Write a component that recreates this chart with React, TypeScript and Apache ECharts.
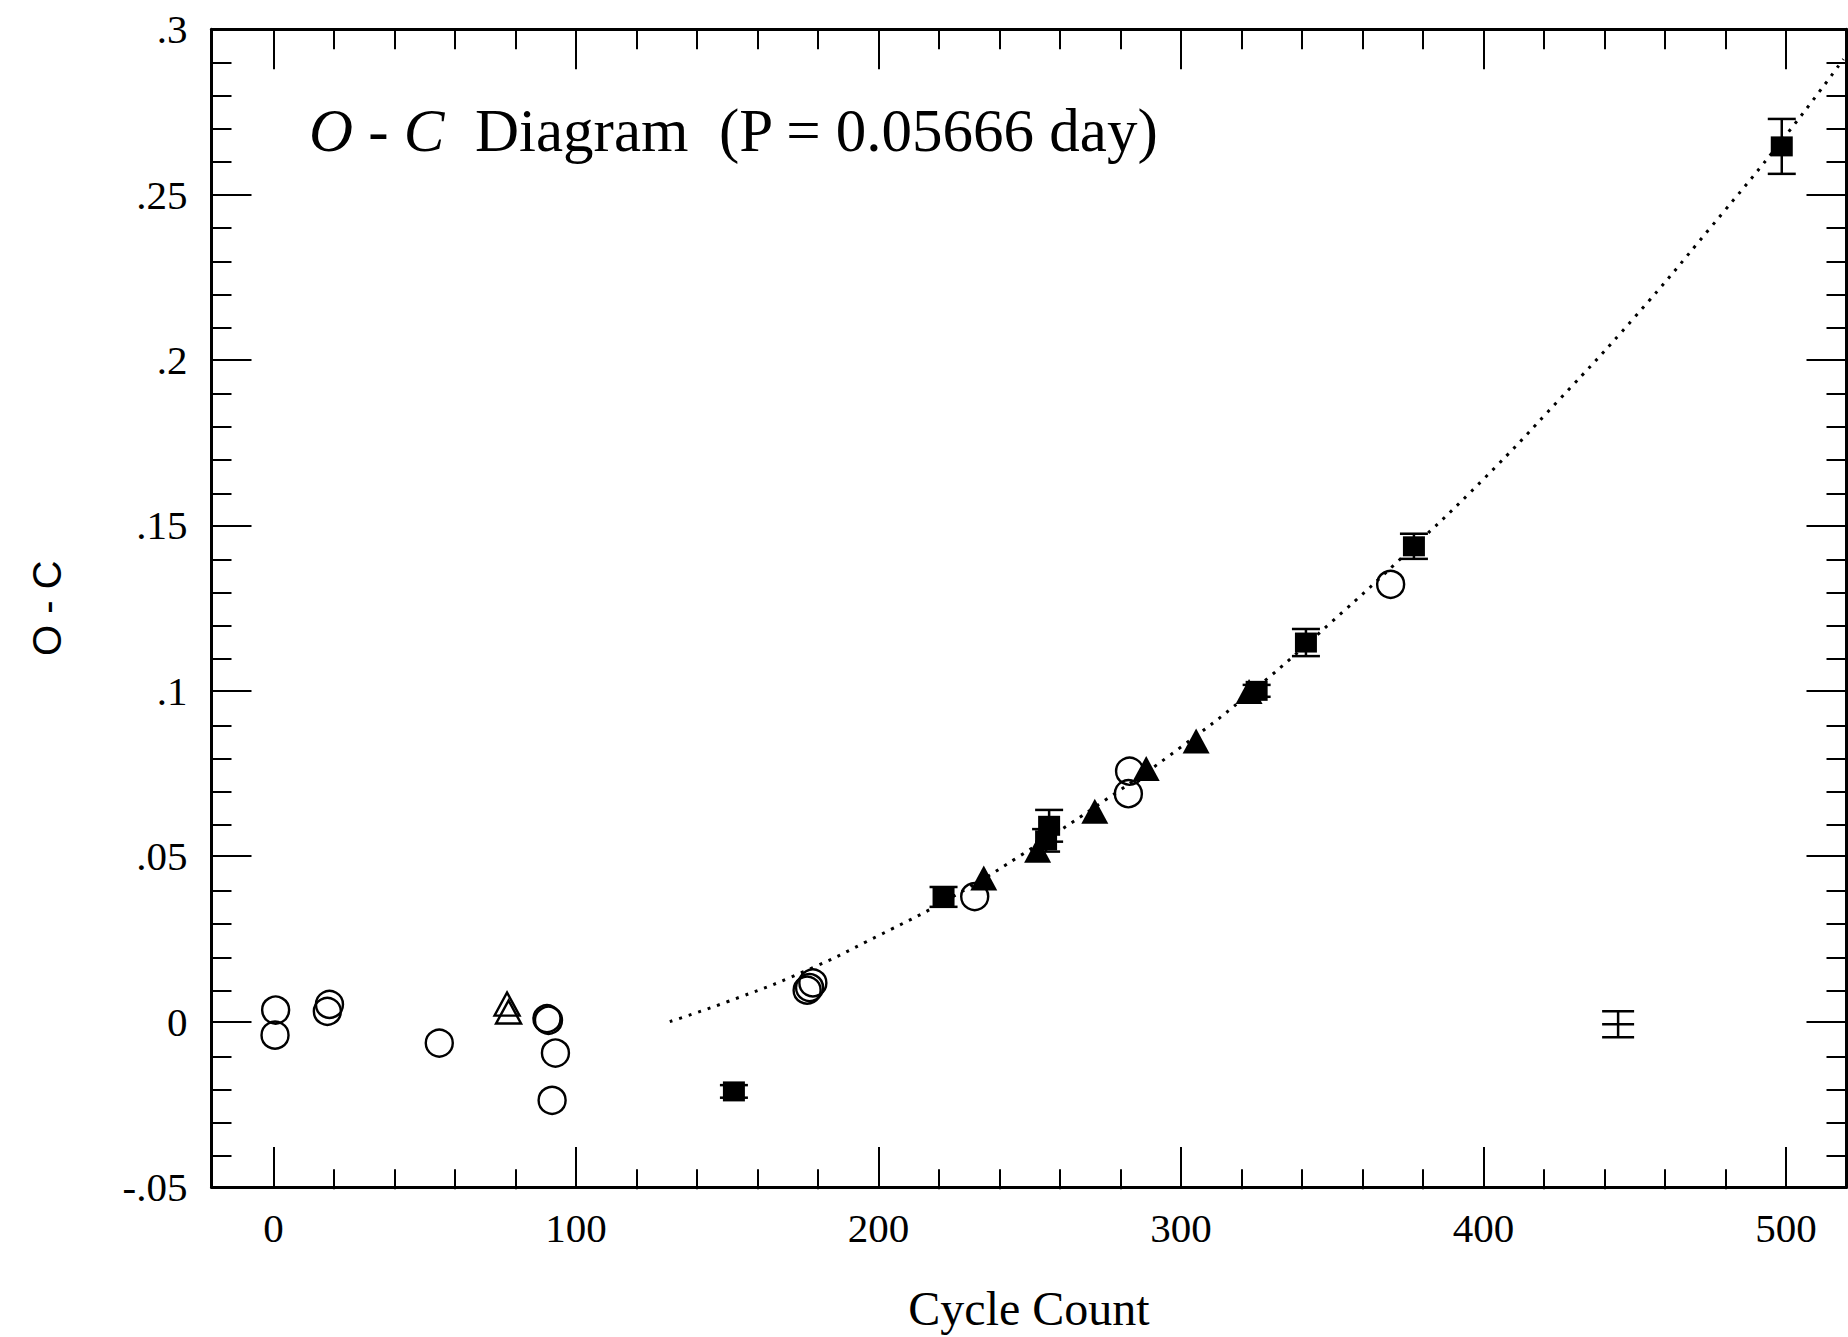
import React, { useEffect, useRef } from "react";
import * as echarts from "echarts";

// ---- data ----
const openCircles: number[][] = [
  [0.7, 0.0035], [0.5, -0.0041], [18.5, 0.0052], [17.8, 0.0031], [54.8, -0.0065],
  [90.4, 0.0009], [90.9, 0.0004], [93.2, -0.0095], [92.1, -0.0238],
  [176.4, 0.0095], [177.2, 0.0103], [178.3, 0.0117], [231.8, 0.0378],
  [283, 0.0757], [282.6, 0.0689], [369.3, 0.1322],
];
const openTriangles: number[][] = [[77.2, 0.0053], [77.7, 0.0029]];
const filledTriangles: number[][] = [
  [234.8, 0.0434], [252.6, 0.0518], [271.5, 0.0636], [288.5, 0.0765], [305, 0.0848], [322.5, 0.0998],
];
// [cycle, O-C, error]
const filledSquares: number[][] = [
  [152.2, -0.0211, 0.0019], [221.5, 0.0377, 0.003], [256.4, 0.0592, 0.0048], [255.4, 0.0548, 0.0034],
  [325, 0.1, 0.0018], [341.3, 0.1146, 0.0041], [377, 0.1437, 0.0038], [498.6, 0.2646, 0.0083],
];
const scaleBar: number[][] = [[444.5, -0.0008, 0.0039]];
const fitCycles = [131, 150, 175, 200, 225, 250, 275, 300, 325, 350, 375, 400, 425, 450, 475, 500, 519];
const fitValues = [0, 0.006, 0.015, 0.026, 0.038, 0.052, 0.067, 0.083, 0.101, 0.121, 0.142, 0.164, 0.188, 0.213, 0.24, 0.268, 0.291];

const xMajorTicks = [0, 100, 200, 300, 400, 500];
const xMinorTicks = [20, 40, 60, 80, 120, 140, 160, 180, 220, 240, 260, 280, 320, 340, 360, 380, 420, 440, 460, 480];
const yMajorTicks = [-0.05, 0, 0.05, 0.1, 0.15, 0.2, 0.25, 0.3];
const yTickLabels = ["-.05", "0", ".05", ".1", ".15", ".2", ".25", ".3"];
const yMinorTicks = [
  -0.04, -0.03, -0.02, -0.01, 0.01, 0.02, 0.03, 0.04, 0.06, 0.07, 0.08, 0.09,
  0.11, 0.12, 0.13, 0.14, 0.16, 0.17, 0.18, 0.19, 0.21, 0.22, 0.23, 0.24, 0.26, 0.27, 0.28, 0.29,
];

const SERIF = '"Liberation Serif", "Times New Roman", serif';
const SANS = '"Liberation Sans", Arial, sans-serif';

const gridBox = { left: 211.5, right: 1.5, top: 29.3, bottom: 147.7 };

function xAx(gridIndex: number, position: string, ticks: number[], len: number, withLine: boolean, withLabels: boolean): any {
  return {
    type: "value", gridIndex, position, min: -20.5, max: 520,
    axisLine: { show: withLine, onZero: false, lineStyle: { color: "#000", width: 3 } },
    axisTick: { show: true, inside: true, length: len, customValues: ticks, lineStyle: { color: "#000", width: 2 } },
    axisLabel: withLabels
      ? { show: true, customValues: xMajorTicks, margin: 20, color: "#000", fontSize: 41, fontFamily: SERIF }
      : { show: false },
    splitLine: { show: false },
    ...(withLabels
      ? { name: "Cycle Count", nameLocation: "middle", nameGap: 97,
          nameTextStyle: { color: "#000", fontSize: 48, fontFamily: SERIF } }
      : {}),
  };
}

function yAx(gridIndex: number, position: string, ticks: number[], len: number, withLine: boolean, withLabels: boolean): any {
  return {
    type: "value", gridIndex, position, min: -0.05, max: 0.3,
    axisLine: { show: withLine, onZero: false, lineStyle: { color: "#000", width: 3 } },
    axisTick: { show: true, inside: true, length: len, customValues: ticks, lineStyle: { color: "#000", width: 2 } },
    axisLabel: withLabels
      ? {
          show: true, customValues: yMajorTicks, margin: 24, color: "#000", fontSize: 41, fontFamily: SERIF,
          formatter: (v: number) => {
            const i = yMajorTicks.findIndex((t) => Math.abs(t - v) < 1e-9);
            return i >= 0 ? yTickLabels[i] : "";
          },
        }
      : { show: false },
    splitLine: { show: false },
    ...(withLabels
      ? { name: "O - C", nameLocation: "middle", nameGap: 145,
          nameTextStyle: { color: "#000", fontSize: 40, fontFamily: SANS } }
      : {}),
  };
}

function errorBarItem(withMid: boolean) {
  return (params: any, api: any) => {
    const x = api.value(0);
    const y = api.value(1);
    const e = api.value(2);
    const top = api.coord([x, y + e]);
    const bot = api.coord([x, y - e]);
    const mid = api.coord([x, y]);
    const half = withMid ? 16 : 14;
    const st = { stroke: "#000", lineWidth: 2.5 };
    const children: any[] = [
      { type: "line", shape: { x1: top[0], y1: top[1], x2: bot[0], y2: bot[1] }, style: st },
      { type: "line", shape: { x1: top[0] - half, y1: top[1], x2: top[0] + half, y2: top[1] }, style: st },
      { type: "line", shape: { x1: bot[0] - half, y1: bot[1], x2: bot[0] + half, y2: bot[1] }, style: st },
    ];
    if (withMid) {
      children.push({ type: "line", shape: { x1: mid[0] - half, y1: mid[1], x2: mid[0] + half, y2: mid[1] }, style: st });
    }
    return { type: "group", children };
  };
}

export default function App() {
  const ref = useRef<HTMLDivElement>(null);
  useEffect(() => {
    if (!ref.current) return;
    const chart = echarts.init(ref.current, undefined, { renderer: "svg" });
    const option: any = {
      animation: false,
      backgroundColor: "#fff",
      title: {
        text: "{i|O - C}  Diagram  (P = 0.05666 day)",
        left: 309, top: 100, padding: 0,
        textStyle: {
          color: "#000", fontSize: 61, fontWeight: "normal", fontFamily: SERIF,
          rich: { i: { fontStyle: "italic", fontSize: 61, fontFamily: SERIF, color: "#000" } },
        },
      },
      grid: [{ ...gridBox }, { ...gridBox }],
      xAxis: [
        xAx(0, "bottom", xMajorTicks, 40, true, true),
        xAx(0, "top", xMajorTicks, 40, true, false),
        xAx(1, "bottom", xMinorTicks, 20, false, false),
        xAx(1, "top", xMinorTicks, 20, false, false),
      ],
      yAxis: [
        yAx(0, "left", yMajorTicks, 40, true, true),
        yAx(0, "right", yMajorTicks, 40, true, false),
        yAx(1, "left", yMinorTicks, 20, false, false),
        yAx(1, "right", yMinorTicks, 20, false, false),
      ],
      series: [
        {
          name: "fit", type: "line", xAxisIndex: 0, yAxisIndex: 0, smooth: true, symbol: "none", silent: true,
          data: fitCycles.map((c, i) => [c, fitValues[i]]),
          lineStyle: { color: "#000", width: 3, type: [3, 7] }, z: 1,
        },
        {
          name: "errors", type: "custom", xAxisIndex: 0, yAxisIndex: 0, data: filledSquares,
          encode: { x: 0, y: 1 }, renderItem: errorBarItem(false), z: 2,
        },
        {
          name: "squares", type: "scatter", xAxisIndex: 0, yAxisIndex: 0, symbol: "rect", symbolSize: [22, 20],
          data: filledSquares.map((d) => [d[0], d[1]]), itemStyle: { color: "#000", opacity: 1 }, z: 3,
        },
        {
          name: "filled triangles", type: "scatter", xAxisIndex: 0, yAxisIndex: 0, symbol: "triangle", symbolSize: [27, 25],
          data: filledTriangles, itemStyle: { color: "#000", opacity: 1 }, z: 3,
        },
        {
          name: "open triangles", type: "scatter", xAxisIndex: 0, yAxisIndex: 0, symbol: "triangle", symbolSize: [25, 23],
          data: openTriangles, itemStyle: { color: "rgba(0,0,0,0)", borderColor: "#000", borderWidth: 2.4, opacity: 1 }, z: 4,
        },
        {
          name: "open circles", type: "scatter", xAxisIndex: 0, yAxisIndex: 0, symbol: "circle", symbolSize: 27,
          data: openCircles, itemStyle: { color: "rgba(0,0,0,0)", borderColor: "#000", borderWidth: 2.4, opacity: 1 }, z: 4,
        },
        {
          name: "typical error", type: "custom", xAxisIndex: 0, yAxisIndex: 0, data: scaleBar,
          encode: { x: 0, y: 1 }, renderItem: errorBarItem(true), z: 2,
        },
      ],
    };
    chart.setOption(option);
    return () => chart.dispose();
  }, []);
  return (
    <div
      ref={ref}
      style={{ position: "fixed", left: 0, top: 0, width: 1848, height: 1337, background: "#fff" }}
    />
  );
}
